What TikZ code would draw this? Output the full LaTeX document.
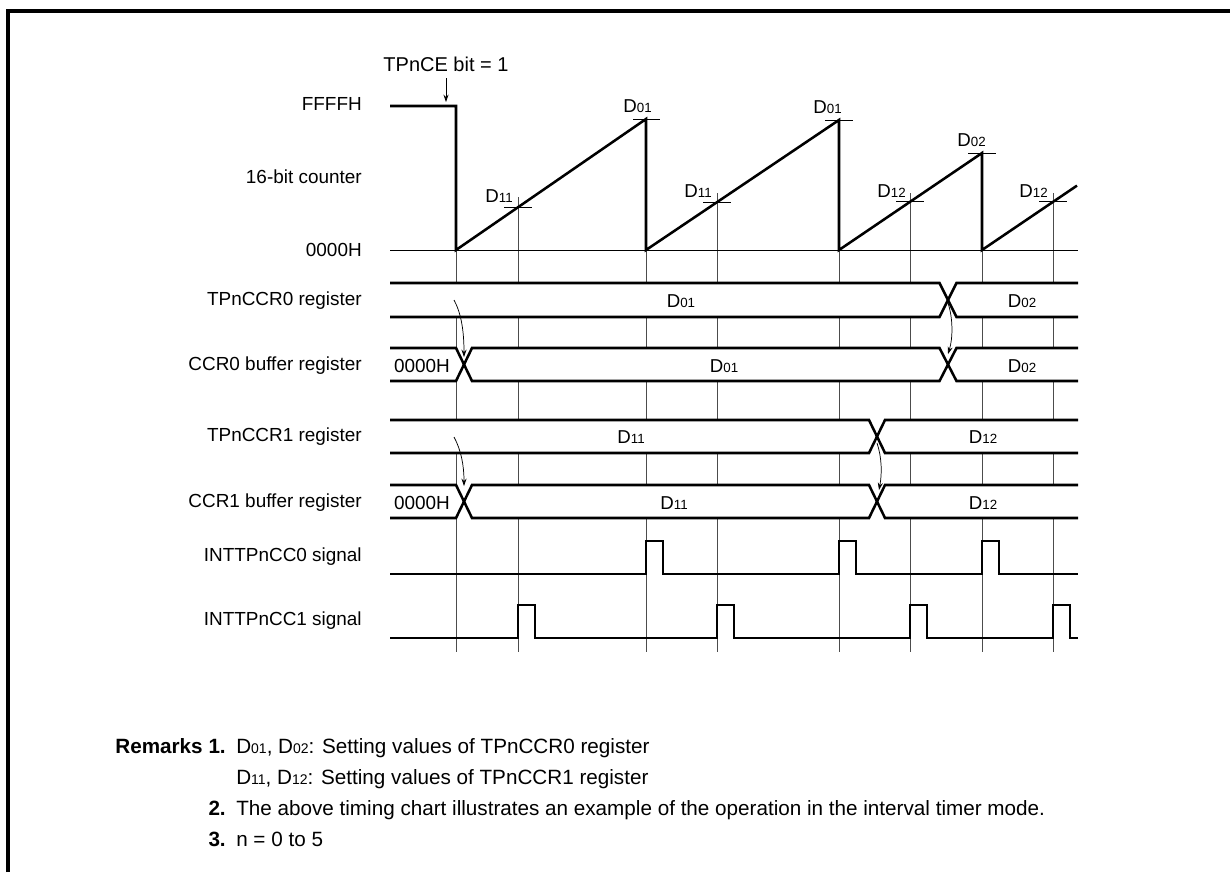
\documentclass[tikz,border=0pt]{standalone}
\usepackage{fontspec}
\setmainfont{Liberation Sans}
\usetikzlibrary{arrows.meta}
\newcommand\bigD{\fontsize{14}{16}\selectfont}
\newcommand\subsz{\fontsize{10}{11}\selectfont}
\newcommand\Dv[1]{{\bigD D}{\subsz #1}}
\newcommand\remsub{\fontsize{10.5}{11}\selectfont}
\newcommand\Dr[1]{D{\remsub #1}}
\begin{document}
\begin{tikzpicture}[x=0.75pt,y=-0.75pt,
  sig/.style={line width=1.9pt, line join=miter},
  grid/.style={line width=0.65pt, draw=black!70},
  thinline/.style={line width=0.7pt},
  lbl/.style={font=\fontsize{14.2}{16}\selectfont, inner sep=0pt},
  rlbl/.style={lbl, anchor=east},
  rem/.style={font=\fontsize{15.5}{17}\selectfont, inner sep=0pt},
  arr/.style={line width=0.55pt, -{Stealth[length=5.5pt,width=3.8pt]}},
  frame/.style={line width=3pt}]
\useasboundingbox (0,0) rectangle (1230,872);
\draw[frame] (8,872) -- (8,11) -- (1230,11);

% grid lines
\foreach \x/\t in {456/250,518/197,646/250,717/193,839/250,910/193,982/250,1053/193}
  \draw[grid] (\x,\t) -- (\x,652);

% band backgrounds
\foreach \t/\b in {283/317,348/381,420/453,485/518}
  \fill[white] (390,\t) rectangle (1078,\b);

% TPnCCR0 register
\draw[sig] (390,283) -- (939.5,283) -- (956.5,317) -- (1078,317);
\draw[sig] (390,317) -- (939.5,317) -- (956.5,283) -- (1078,283);
% CCR0 buffer
\draw[sig] (390,348) -- (456,348) -- (472,381) -- (939.5,381) -- (956.5,348) -- (1078,348);
\draw[sig] (390,381) -- (456,381) -- (472,348) -- (939.5,348) -- (956.5,381) -- (1078,381);
% TPnCCR1 register
\draw[sig] (390,420) -- (869,420) -- (885,453) -- (1078,453);
\draw[sig] (390,453) -- (869,453) -- (885,420) -- (1078,420);
% CCR1 buffer
\draw[sig] (390,485) -- (456,485) -- (472,518) -- (869,518) -- (885,485) -- (1078,485);
\draw[sig] (390,518) -- (456,518) -- (472,485) -- (869,485) -- (885,518) -- (1078,518);

% interrupts
\draw[sig] (390,574) -- (646,574) -- (646,541) -- (663,541) -- (663,574) -- (839,574) -- (839,541) -- (856,541) -- (856,574) -- (982,574) -- (982,541) -- (999,541) -- (999,574) -- (1078,574);
\draw[sig] (390,638) -- (518,638) -- (518,605) -- (535,605) -- (535,638) -- (717,638) -- (717,605) -- (734,605) -- (734,638) -- (910,638) -- (910,605) -- (927,605) -- (927,638) -- (1053,638) -- (1053,605) -- (1070,605) -- (1070,638) -- (1078,638);

% counter
\draw[thinline] (390,250) -- (1078,250);
\draw[sig] (390,106) -- (456,106) -- (456,250) -- (646,119) -- (646,250) -- (839,120) -- (839,250) -- (982,153) -- (982,250) -- (1077,185.6);
\draw[thinline] (633,119) -- (660,119);
\draw[thinline] (825,120) -- (853,120);
\draw[thinline] (968,153) -- (996,153);
\draw[thinline] (504,207.3) -- (532,207.3);
\draw[thinline] (703,202.2) -- (731,202.2);
\draw[thinline] (896,201.8) -- (924,201.8);
\draw[thinline] (1039,201.8) -- (1067,201.8);

% counter labels
\node[lbl, anchor=south east] (p1) at (652,113) {\Dv{01}};
\node[lbl, anchor=south east] (p2) at (842,114) {\Dv{01}};
\node[lbl, anchor=south east] (p3) at (986,147) {\Dv{02}};
\node[lbl, anchor=south east] (c1) at (513,203) {\Dv{11}};
\node[lbl, anchor=south east] (c2) at (712,198) {\Dv{11}};
\node[lbl, anchor=south east] (c3) at (906,198) {\Dv{12}};
\node[lbl, anchor=south east] (c4) at (1048,198) {\Dv{12}};

% TPnCE
\node[lbl, font=\fontsize{15}{17}\selectfont] (ce) at (446,64) {TPnCE bit = 1};
\coordinate (ceA) at (446,78);
\coordinate (ceB) at (446,102);
\draw[arr] (ceA) -- (ceB);

% band labels
\node[lbl] (r0a) at (681,301) {\Dv{01}};
\node[lbl] (r0b) at (1022,301) {\Dv{02}};
\node[lbl] (b0z) at (422,366) {0000H};
\node[lbl] (b0a) at (724,366) {\Dv{01}};
\node[lbl] (b0b) at (1022,366) {\Dv{02}};
\node[lbl] (r1a) at (631,437) {\Dv{11}};
\node[lbl] (r1b) at (983,437) {\Dv{12}};
\node[lbl] (b1z) at (422,503) {0000H};
\node[lbl] (b1a) at (674,503) {\Dv{11}};
\node[lbl] (b1b) at (983,503) {\Dv{12}};

% transfer arrows
\coordinate (t1s) at (454,300); \coordinate (t1e) at (464,357);
\draw[arr] (t1s) .. controls (461,313) and (464,330) .. (t1e);
\coordinate (t2s) at (948,303); \coordinate (t2e) at (948,354);
\draw[arr] (t2s) .. controls (953,318) and (953,338) .. (t2e);
\coordinate (t3s) at (454,437); \coordinate (t3e) at (464,486);
\draw[arr] (t3s) .. controls (461,450) and (464,465) .. (t3e);
\coordinate (t4s) at (877,443); \coordinate (t4e) at (879,490);
\draw[arr] (t4s) .. controls (882,458) and (882,474) .. (t4e);

% left labels
\node[rlbl] (l1) at (362,104) {FFFFH};
\node[rlbl] (l2) at (362,177) {16-bit counter};
\node[rlbl] (l3) at (362,250) {0000H};
\node[rlbl] (l4) at (362,301) {TPnCCR0 register};
\node[rlbl] (l5) at (362,366) {CCR0 buffer register};
\node[rlbl] (l6) at (362,437) {TPnCCR1 register};
\node[rlbl] (l7) at (362,503) {CCR1 buffer register};
\node[rlbl] (l8) at (362,557) {INTTPnCC0 signal};
\node[rlbl] (l9) at (362,621) {INTTPnCC1 signal};

% remarks
\node[rem, anchor=base east] (rk) at (203,753) {\textbf{Remarks}};
\node[rem, anchor=base east] (n1) at (226,753) {\textbf{1.}};
\node[rem, anchor=base west] (m1) at (236,753) {\Dr{01}, \Dr{02}: Setting values of TPnCCR0 register};
\node[rem, anchor=base west] (m1b) at (236,784) {\Dr{11}, \Dr{12}: Setting values of TPnCCR1 register};
\node[rem, anchor=base east] (n2) at (226,815) {\textbf{2.}};
\node[rem, anchor=base west] (m2) at (236,815) {The above timing chart illustrates an example of the operation in the interval timer mode.};
\node[rem, anchor=base east] (n3) at (226,846) {\textbf{3.}};
\node[rem, anchor=base west] (m3) at (236,846) {n = 0 to 5};
\end{tikzpicture}
\end{document}
